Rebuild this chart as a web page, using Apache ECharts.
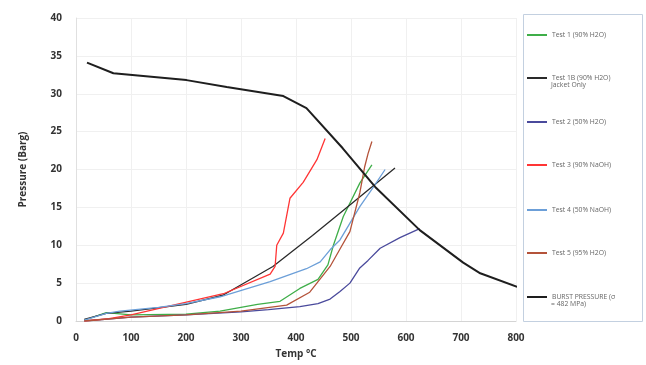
<!DOCTYPE html>
<html>
<head>
<meta charset="utf-8">
<script src="https://cdn.jsdelivr.net/npm/echarts@6/dist/echarts.min.js"></script>
<style>
  html, body { margin: 0; padding: 0; background: #fff; }
  #chart { width: 646px; height: 365px; }
</style>
</head>
<body>
<div id="chart"></div>
<script>
// Temperature (°C) / pressure (Barg) pairs for each test run
const test1Temp  = [15, 55, 100, 200, 262, 330, 371, 407, 440, 458, 468, 486, 516, 538];
const test1Pres  = [0.1, 1.1, 0.8, 0.9, 1.3, 2.2, 2.6, 4.3, 5.5, 7.4, 10.0, 13.8, 18.2, 20.6];

const test1bTemp = [15, 55, 100, 200, 267, 358, 430, 498, 580];
const test1bPres = [0.2, 1.0, 1.3, 2.2, 3.4, 7.2, 11.3, 15.3, 20.2];

const test2Temp  = [15, 100, 200, 300, 350, 407, 440, 462, 480, 498, 516, 531, 553, 589, 625];
const test2Pres  = [0.0, 0.5, 0.8, 1.2, 1.5, 1.9, 2.3, 2.9, 3.9, 5.0, 7.0, 8.0, 9.6, 11.0, 12.2];

const test3Temp  = [15, 60, 100, 171, 268, 353, 362, 365, 377, 389, 413, 438, 453];
const test3Pres  = [0.0, 0.3, 0.8, 2.0, 3.6, 6.2, 7.2, 10.0, 11.6, 16.2, 18.3, 21.3, 24.1];

const test4Temp  = [15, 55, 80, 150, 200, 262, 353, 419, 444, 462, 480, 516, 541, 562];
const test4Pres  = [0.1, 1.0, 1.3, 1.8, 2.3, 3.2, 5.2, 6.9, 7.8, 9.4, 10.7, 15.1, 17.7, 20.0];

const test5Temp  = [15, 100, 200, 300, 383, 425, 462, 480, 498, 516, 525, 531, 538];
const test5Pres  = [0.0, 0.5, 0.8, 1.3, 2.1, 3.8, 7.2, 9.5, 11.8, 16.9, 20.4, 22.1, 23.7];

const burstTemp  = [20, 68, 201, 274, 377, 419, 485, 544, 625, 704, 735, 802];
const burstPres  = [34.1, 32.7, 31.8, 30.9, 29.7, 28.1, 22.8, 17.7, 12.0, 7.7, 6.3, 4.5];

const xTicks = { min: 0, max: 800, interval: 100 };
const yTicks = { min: 0, max: 40, interval: 5 };

// name: legend entry; note: continuation line printed under the entry
const seriesDefs = [
  { name: 'Test 1 (90% H2O)',    note: '',             t: test1Temp,  p: test1Pres,  color: '#3fae49', width: 1.3 },
  { name: 'Test 1B (90% H2O)',   note: 'Jacket Only',  t: test1bTemp, p: test1bPres, color: '#2a2a2a', width: 1.3 },
  { name: 'Test 2 (50% H2O)',    note: '',             t: test2Temp,  p: test2Pres,  color: '#4a4a9c', width: 1.3 },
  { name: 'Test 3 (90% NaOH)',   note: '',             t: test3Temp,  p: test3Pres,  color: '#ff3535', width: 1.3 },
  { name: 'Test 4 (50% NaOH)',   note: '',             t: test4Temp,  p: test4Pres,  color: '#6c9fd8', width: 1.3 },
  { name: 'Test 5 (95% H2O)',    note: '',             t: test5Temp,  p: test5Pres,  color: '#b4533a', width: 1.3 },
  { name: 'BURST PRESSURE (σ',   note: '= 482 MPa)',   t: burstTemp,  p: burstPres,  color: '#1e1e1e', width: 2.0 }
];

// vertical centre of each legend entry
const legendRows = [35, 78, 122, 165, 210, 253, 297];

const chart = echarts.init(document.getElementById('chart'), null, { renderer: 'canvas' });

const FONT = 'Open Sans';
const LEG_FONT = 6.8;

const noteTexts = seriesDefs
  .map((s, i) => ({ s, i }))
  .filter(o => o.s.note)
  .map(o => ({
    type: 'text',
    left: 551,
    top: legendRows[o.i] + 4,
    style: { text: o.s.note, fontFamily: FONT, fontSize: LEG_FONT, fill: '#666' }
  }));

chart.setOption({
  animation: false,
  backgroundColor: '#ffffff',
  grid: { left: 76, right: 130, top: 18, bottom: 44, containLabel: false },
  xAxis: {
    type: 'value',
    min: xTicks.min, max: xTicks.max, interval: xTicks.interval,
    name: 'Temp °C',
    nameLocation: 'middle',
    nameGap: 28,
    nameTextStyle: { fontFamily: FONT, fontWeight: 'bold', fontSize: 10, color: '#333' },
    axisLine: { show: true, lineStyle: { color: '#d4d4d4', width: 1 } },
    axisTick: { show: false },
    axisLabel: { fontFamily: FONT, fontWeight: 'bold', fontSize: 10, color: '#333', margin: 12 },
    splitLine: { show: true, lineStyle: { color: '#f0f0f0', width: 1 } }
  },
  yAxis: {
    type: 'value',
    min: yTicks.min, max: yTicks.max, interval: yTicks.interval,
    name: 'Pressure (Barg)',
    nameLocation: 'middle',
    nameGap: 48,
    nameTextStyle: { fontFamily: FONT, fontWeight: 'bold', fontSize: 10, color: '#333' },
    axisLine: { show: true, lineStyle: { color: '#e0e0e0', width: 1 } },
    axisTick: { show: false },
    axisLabel: { fontFamily: FONT, fontWeight: 'bold', fontSize: 10, color: '#333', margin: 14 },
    splitLine: { show: true, lineStyle: { color: '#f0f0f0', width: 1 } }
  },
  legend: seriesDefs.map((s, i) => ({
    data: [s.name],
    orient: 'vertical',
    left: 527,
    top: legendRows[i] - 5,
    padding: 0,
    itemWidth: 20,
    itemHeight: 2,
    itemGap: 4,
    icon: 'rect',
    textStyle: { fontFamily: FONT, fontSize: LEG_FONT, color: '#666', lineHeight: 10 },
    selectedMode: false
  })),
  graphic: [{
    type: 'rect',
    shape: { x: 523.5, y: 14.5, width: 119, height: 307 },
    style: { fill: 'none', stroke: '#c3d0e0', lineWidth: 1 },
    z: 0
  }].concat(noteTexts),
  series: seriesDefs.map(s => ({
    name: s.name,
    type: 'line',
    data: s.t.map((t, i) => [t, s.p[i]]),
    showSymbol: false,
    symbol: 'none',
    lineStyle: { color: s.color, width: s.width },
    itemStyle: { color: s.color },
    z: s.name.startsWith('BURST') ? 3 : 2
  }))
});
</script>
</body>
</html>
